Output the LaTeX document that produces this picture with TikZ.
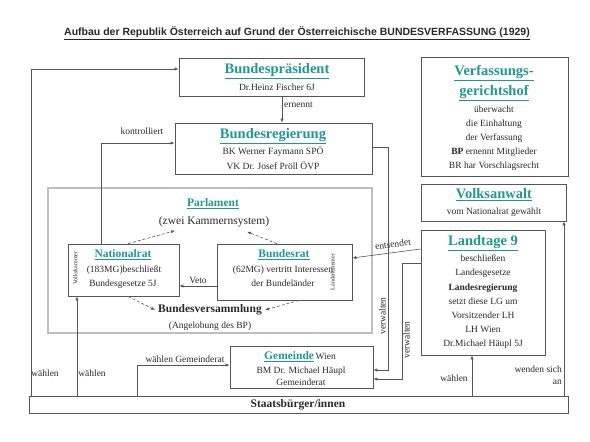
\documentclass[tikz,border=0pt]{standalone}
\usepackage{fontspec}
\setmainfont{Liberation Serif}
\newfontfamily\titlefont{Liberation Sans}
\usetikzlibrary{arrows.meta}
\definecolor{headteal}{RGB}{30,152,148}
\definecolor{linegray}{RGB}{85,85,85}
\definecolor{textgray}{RGB}{40,40,40}
\definecolor{parlgray}{RGB}{190,190,190}
\newcommand{\hd}[1]{\underline{#1}}

\begin{document}
\begin{tikzpicture}[x=1pt,y=-1pt,
  box/.style={draw=linegray, line width=0.7pt, inner sep=0pt},
  txt/.style={text=textgray, inner sep=0pt, text height=.7em, text depth=.2em, font=\fontsize{9.5}{11}\selectfont},
  bld/.style={txt, font=\fontsize{9.5}{11}\selectfont\bfseries},
  bigbld/.style={txt, font=\fontsize{11.5}{13}\selectfont\bfseries},
  big/.style={txt, text=headteal, font=\fontsize{14.5}{16}\selectfont\bfseries},
  mid/.style={txt, text=headteal, font=\fontsize{11.5}{13}\selectfont\bfseries},
  tiny/.style={txt, font=\fontsize{6}{7}\selectfont, rotate=90},
  arr/.style={draw=linegray, line width=0.6pt, -{Latex[length=4pt,width=3.2pt]}},
  dasharr/.style={arr, dash pattern=on 3pt off 2pt}]
  \useasboundingbox (0,0) rectangle (590,442);

  \node[txt, font=\titlefont\fontsize{10.5}{12}\selectfont\bfseries] (title) at (297,33)
    {\underline{Aufbau der Republik Österreich auf Grund der Österreichische BUNDESVERFASSUNG (1929)}};

  \node[box, minimum width=185pt, minimum height=38pt] (bp) at (271.5,77) {};
  \node[box, minimum width=197pt, minimum height=51pt] (breg) at (273.5,148.5) {};
  \node[box, minimum width=147pt, minimum height=119pt] (vgh) at (494.5,116.5) {};
  \node[box, minimum width=145pt, minimum height=37pt] (va) at (493.5,202.5) {};
  \node[box, draw=parlgray, line width=1.6pt, minimum width=324pt, minimum height=145pt] (parl) at (210,260.5) {};
  \node[box, minimum width=111pt, minimum height=52pt] (nr) at (123.5,270) {};
  \node[box, minimum width=135pt, minimum height=56pt] (bra) at (284.5,272) {};
  \node[box, minimum width=124pt, minimum height=125pt] (lt) at (483,292.5) {};
  \node[box, minimum width=143pt, minimum height=42pt] (gem) at (301.5,367) {};
  \node[box, minimum width=539pt, minimum height=17pt] (sb) at (298.5,404.5) {};

  \node[big] (bp-h) at (277,71) {\hd{Bundespräsident}};
  \node[txt] (bp-a) at (277,88) {Dr.Heinz Fischer 6J};
  \node[big] (breg-h) at (273,136) {\hd{Bundesregierung}};
  \node[txt] (breg-a) at (273,152) {BK Werner Faymann SPÖ};
  \node[txt] (breg-b) at (273,167) {VK Dr. Josef Pröll ÖVP};

  \node[big] (vgh-h1) at (494,73) {\hd{Verfassungs-}};
  \node[big] (vgh-h2) at (494,93) {\hd{gerichtshof}};
  \node[txt] (vgh-a) at (494,110) {überwacht};
  \node[txt] (vgh-b) at (494,124) {die Einhaltung};
  \node[txt] (vgh-c) at (494,138) {der Verfassung};
  \node[txt] (vgh-d) at (494,152) {\textbf{BP} ernennt Mitglieder};
  \node[txt] (vgh-e) at (494,166) {BR har Vorschlagsrecht};
  \node[big] (va-h) at (494,196) {\hd{Volksanwalt}};
  \node[txt] (va-a) at (494,212) {vom Nationalrat gewählt};

  \node[mid] (parl-h) at (213,204) {\hd{Parlament}};
  \node[txt, font=\fontsize{11.5}{13}\selectfont] (zks) at (214,222) {(zwei Kammernsystem)};
  \node[mid] (nr-h) at (123,255) {\hd{Nationalrat}};
  \node[txt] (nr-a) at (124,270) {(183MG)beschließt};
  \node[txt] (nr-b) at (123,284) {Bundesgesetze 5J};
  \node[tiny] (nr-v) at (75,268) {Volkskammer};
  \node[mid] (bra-h) at (284,255) {\hd{Bundesrat}};
  \node[txt] (bra-a) at (283,270) {(62MG) vertritt Interessen};
  \node[txt] (bra-b) at (283,284) {der Bundeländer};
  \node[tiny] (bra-v) at (332,272) {Länderkammer};
  \node[bigbld] (bv) at (210,310) {Bundesversammlung};
  \node[txt] (bv-a) at (210,326) {(Angelobung des BP)};

  \node[big] (lt-h) at (483,243) {\hd{Landtage 9}};
  \node[txt] (lt-a) at (483,259) {beschließen};
  \node[txt] (lt-b) at (483,273) {Landesgesetze};
  \node[bld] (lt-c) at (483,288) {Landesregierung};
  \node[txt] (lt-d) at (483,302) {setzt diese LG um};
  \node[txt] (lt-e) at (483,316) {Vorsitzender LH};
  \node[txt] (lt-f) at (483,330) {LH Wien};
  \node[txt] (lt-g) at (483,344) {Dr.Michael Häupl 5J};

  \node[txt] (gem-h) at (300,357) {{\color{headteal}\fontsize{11.5}{13}\selectfont\bfseries\hd{Gemeinde}}\,Wien};
  \node[txt] (gem-a) at (301,371) {BM Dr. Michael Häupl};
  \node[txt] (gem-b) at (301,383) {Gemeinderat};
  \node[bigbld] (sb-h) at (298,405) {Staatsbürger/innen};

  \node[txt, anchor=west] (l-ern) at (284,105) {ernennt};
  \node[txt] (l-kon) at (142,132) {kontrolliert};
  \node[txt] (l-veto) at (198,281) {Veto};
  \node[txt, rotate=8] (l-ent) at (393,245) {entsendet};
  \node[txt, rotate=90] (l-ver1) at (383,316) {verwalten};
  \node[txt, rotate=90] (l-ver2) at (407,340) {verwalten};
  \node[txt] (l-w1) at (45,374) {wählen};
  \node[txt] (l-w2) at (92,374) {wählen};
  \node[txt] (l-wg) at (185,360) {wählen Gemeinderat};
  \node[txt] (l-w3) at (454,379) {wählen};
  \node[txt, anchor=east] (l-an1) at (562,370) {wenden sich};
  \node[txt, anchor=east] (l-an2) at (562,382) {an};

  \coordinate (c1) at (31,69);
  \coordinate (c2) at (77,396);
  \coordinate (c3) at (101,143);
  \coordinate (c4) at (282,96);
  \coordinate (c5) at (388,147);
  \coordinate (c6) at (388,370);
  \coordinate (c7) at (402,263);
  \coordinate (c8) at (402,379);
  \coordinate (c9) at (137,365);
  \coordinate (c10) at (472,396);
  \coordinate (c11) at (564,396);

  \draw[arr] (sb.north -| c1) -- (c1) -- (c1 -| bp.west);
  \draw[arr] (sb.north -| c2) -- (nr.south -| c2);
  \draw[arr] (nr.north -| c3) -- (c3) -- (c3 -| breg.west);
  \draw[arr] (bp.south -| c4) -- (breg.north -| c4);
  \draw[arr] (c5 -| breg.east) -- (c5) -- (c6) -- (c6 -| gem.east);
  \draw[arr] (c7 -| lt.west) -- (c7) -- (c8) -- (c8 -| gem.east);
  \draw[arr] (sb.north -| c9) -- (c9) -- (c9 -| gem.west);
  \draw[arr] (sb.north -| c10) -- (lt.south -| c10);
  \draw[arr] (sb.north -| c11) -- (va.south -| c11);
  \draw[arr] ([yshift=43.5pt]lt.west) -- ([yshift=14pt]bra.east);
  \draw[arr] ([yshift=-14pt]bra.west) -- ([yshift=-14pt]bra.west -| nr.east);

  \draw[dasharr] ([xshift=4.5pt]nr.north) -- ([xshift=-39pt,yshift=-4pt]zks.south);
  \draw[dasharr] ([xshift=-7.5pt]bra.north) -- ([xshift=33pt,yshift=-5pt]zks.south);
  \draw[dasharr] ([xshift=4.5pt]nr.south) -- ([xshift=-3pt]bv.west);
  \draw[dasharr] ([xshift=14.5pt]bra.south) -- ([xshift=3pt]bv.east);
\end{tikzpicture}
\end{document}
